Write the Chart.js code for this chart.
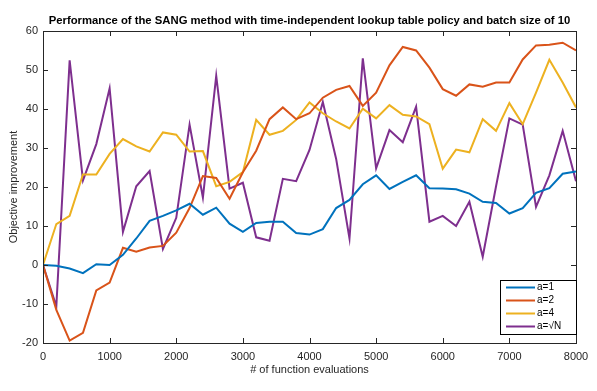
<!DOCTYPE html>
<html>
<head>
<meta charset="utf-8">
<script src="https://cdn.jsdelivr.net/npm/chart.js@4.4.1/dist/chart.umd.min.js"></script>
<style>
  html, body { margin: 0; padding: 0; background: #fff; }
  #wrap { width: 597px; height: 391px; }
</style>
</head>
<body>
<div id="wrap"><canvas id="myChart" width="597" height="391"></canvas></div>
<script>
// evaluations (x) and objective improvement per method
var xValues = [0,200,400,600,800,1000,1200,1400,1600,1800,2000,2200,2400,2600,2800,3000,3200,3400,3600,3800,4000,
               4200,4400,4600,4800,5000,5200,5400,5600,5800,6000,6200,6400,6600,6800,7000,7200,7400,7600,7800,8000];
var a1 = [0,-0.2,-0.9,-2.1,0.2,0,2.6,6.8,11.3,12.6,14,15.7,12.9,14.7,10.6,8.5,10.8,11.1,11.1,8.2,7.8,
          9.2,14.6,16.7,20.7,23,19.5,21.3,23,19.7,19.6,19.4,18.3,16.2,15.9,13.2,14.6,18.5,19.7,23.4,24];
var a2 = [0,-11.5,-19.4,-17.4,-6.5,-4.5,4.4,3.4,4.5,4.9,8.3,14.6,22.8,22.3,17,23.8,29.3,37.4,40.4,37.4,38.9,
          42.9,44.9,45.9,40.8,44.2,51.2,55.9,55,50.6,45.1,43.4,46.3,45.7,46.8,46.8,52.7,56.3,56.5,57,55];
var a4 = [0,10.5,12.6,23.2,23.2,28.5,32.3,30.4,29.1,34,33.4,29.1,29.2,20.2,21.3,23.8,37.2,33.4,34.4,37.2,41.7,
          38.9,36.8,35,40.1,37.6,41,38.5,38.1,36.1,24.7,29.6,28.9,37.4,34.4,41.5,36.1,44.2,52.6,46.8,40.4];
var aSqrt = [0,-10.6,52.5,21.7,31,45.3,8.5,20.2,24.1,4.1,12.1,36,17.3,48.5,19.6,21.1,7.1,6.2,22.1,21.5,29.5,
             41.8,27.2,6.8,53,24.8,34.6,31.5,40.6,11.1,12.6,10,16.2,2.1,20.2,37.6,36,14.9,23,34.4,21.5];
var seriesNames = ["a=1", "a=2", "a=4", "a=\u221AN"];
var seriesColors = ["#0072BD", "#D95319", "#EDB120", "#7E2F8E"];
var xTicks = [0,1000,2000,3000,4000,5000,6000,7000,8000];
var yTicks = [-20,-10,0,10,20,30,40,50,60];

var titleText = "Performance of the SANG method with time-independent lookup table policy and batch size of 10";
var FONT = "'Liberation Sans', Arial, Helvetica, sans-serif";
var AXIS = "#262626";

function toPoints(ys) {
  return ys.map(function (y, i) { return { x: xValues[i], y: y }; });
}

var allSeries = [a1, a2, a4, aSqrt];
var datasets = allSeries.map(function (ys, i) {
  return {
    label: seriesNames[i],
    data: toPoints(ys),
    borderColor: seriesColors[i],
    backgroundColor: seriesColors[i],
    borderWidth: 2,
    pointRadius: 0,
    tension: 0,
    fill: false
  };
});

/* frame, inward ticks, title, axis titles and legend box */
var matlabLook = {
  id: "matlabLook",
  afterDraw: function (chart) {
    var ctx = chart.ctx;
    var a = chart.chartArea;
    var xs = chart.scales.x, ys = chart.scales.y;
    var tl = 5;
    ctx.save();
    ctx.strokeStyle = AXIS;
    ctx.lineWidth = 1;
    ctx.strokeRect(Math.round(a.left) + 0.5, Math.round(a.top) + 0.5,
                   Math.round(a.right - a.left), Math.round(a.bottom - a.top));
    ctx.beginPath();
    xTicks.forEach(function (v) {
      var px = Math.round(xs.getPixelForValue(v)) + 0.5;
      ctx.moveTo(px, a.bottom); ctx.lineTo(px, a.bottom - tl);
      ctx.moveTo(px, a.top); ctx.lineTo(px, a.top + tl);
    });
    yTicks.forEach(function (v) {
      var py = Math.round(ys.getPixelForValue(v)) + 0.5;
      ctx.moveTo(a.left, py); ctx.lineTo(a.left + tl, py);
      ctx.moveTo(a.right, py); ctx.lineTo(a.right - tl, py);
    });
    ctx.stroke();

    // title
    var cx = (a.left + a.right) / 2;
    ctx.fillStyle = "#000";
    ctx.font = "bold 11.3px " + FONT;
    ctx.textAlign = "center";
    ctx.textBaseline = "middle";
    ctx.fillText(titleText, cx, 21);

    // axis titles
    ctx.fillStyle = AXIS;
    ctx.font = "11px " + FONT;
    ctx.fillText("# of function evaluations", cx, 370);
    ctx.save();
    ctx.translate(14, (a.top + a.bottom) / 2);
    ctx.rotate(-Math.PI / 2);
    ctx.fillText("Objective improvement", 0, 0);
    ctx.restore();

    // legend
    var lx = 500, ly = 280, lw = 76, lh = 54;
    ctx.fillStyle = "#fff";
    ctx.fillRect(lx, ly, lw, lh);
    ctx.strokeStyle = "#000";
    ctx.strokeRect(lx + 0.5, ly + 0.5, lw, lh);
    ctx.font = "10px " + FONT;
    ctx.textAlign = "left";
    chart.data.datasets.forEach(function (ds, i) {
      var y = ly + 7.5 + i * 13;
      ctx.strokeStyle = ds.borderColor;
      ctx.lineWidth = 2;
      ctx.beginPath();
      ctx.moveTo(lx + 6, y); ctx.lineTo(lx + 35, y);
      ctx.stroke();
      ctx.fillStyle = "#000";
      ctx.fillText(ds.label, lx + 37, y);
    });
    ctx.restore();
  }
};

new Chart("myChart", {
  type: "line",
  data: { datasets: datasets },
  options: {
    responsive: false,
    animation: false,
    layout: { padding: { left: 0, right: 21, top: 31, bottom: 0 } },
    plugins: {
      legend: { display: false },
      title: { display: false },
      tooltip: { enabled: false }
    },
    scales: {
      x: {
        type: "linear",
        min: 0, max: 8000,
        afterFit: function (s) { s.height = 48; },
        afterBuildTicks: function (s) { s.ticks = xTicks.map(function (v) { return { value: v }; }); },
        grid: { display: false, drawTicks: false },
        border: { display: false },
        ticks: {
          padding: 7, color: AXIS, font: { family: FONT, size: 11 }, maxRotation: 0,
          callback: function (v) { return String(v); }
        }
      },
      y: {
        min: -20, max: 60,
        afterFit: function (s) { s.width = 43; },
        afterBuildTicks: function (s) { s.ticks = yTicks.map(function (v) { return { value: v }; }); },
        grid: { display: false, drawTicks: false },
        border: { display: false },
        ticks: {
          padding: 5, color: AXIS, font: { family: FONT, size: 11 },
          callback: function (v) { return String(v); }
        }
      }
    }
  },
  plugins: [matlabLook]
});
</script>
</body>
</html>
